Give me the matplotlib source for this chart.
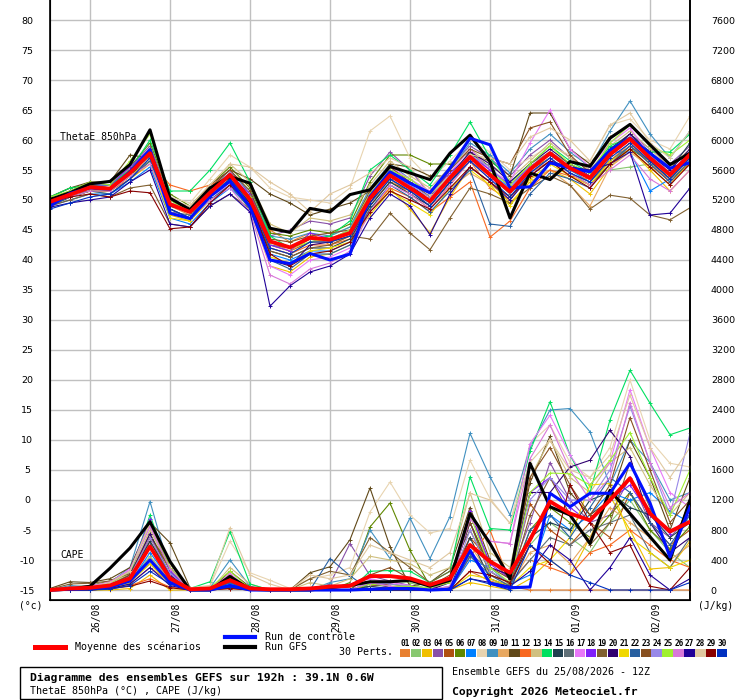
import numpy as np
import matplotlib
matplotlib.use('Agg')
from matplotlib import pyplot as plt
from matplotlib.patches import Rectangle
from matplotlib.lines import Line2D
from matplotlib.transforms import blended_transform_factory

# lead times (h) from 25/08 12Z, every 6 h up to 192 h
hours = list(range(0, 193, 6))

day_hours = [12, 36, 60, 84, 108, 132, 156, 180]
day_labels = ['26/08', '27/08', '28/08', '29/08', '30/08', '31/08', '01/09', '02/09']

pert_colors = ['#E88030', '#88C870', '#F0C000', '#8850A8', '#B05010', '#608800',
               '#0080FF', '#E8D4B0', '#4090C0', '#E8A860', '#604818', '#F86820',
               '#D0C080', '#00E060', '#204050', '#607078', '#E878F8', '#8020F8',
               '#806030', '#300070', '#F0D800', '#2860A0', '#885020', '#9888E8',
               '#A0F030', '#D878D8', '#200098', '#E0C8A0', '#880000', '#0030C0']

# ThetaE 850 hPa (deg C)
theta_mean = [49.7, 50.9, 52.1, 51.9, 54.5, 57.8, 49.3, 48.0, 51.2, 54.2, 50.1, 43.1, 42.1, 43.7, 43.4, 44.5, 50.3,
              54.1, 52.0, 49.8, 53.7, 57.2, 54.2, 51.4, 55.1, 57.8, 55.3, 53.7, 57.6, 60.2, 57.0, 54.2, 57.6]
theta_gfs = [50.1, 51.2, 52.7, 53.1, 55.9, 61.7, 50.3, 48.4, 52.0, 53.9, 52.8, 45.3, 44.6, 48.6, 48.0, 50.9, 51.7,
             55.6, 54.5, 53.4, 57.8, 60.8, 56.4, 47.0, 54.5, 53.4, 56.4, 55.6, 60.3, 62.6, 59.2, 55.9, 57.8]
theta_ctrl = [49.0, 51.1, 52.0, 51.8, 54.7, 58.4, 47.8, 46.9, 50.6, 53.1, 48.9, 40.0, 39.4, 41.1, 40.0, 41.0, 50.6,
              54.7, 52.8, 51.2, 55.3, 60.3, 59.2, 52.0, 52.2, 56.2, 55.3, 54.7, 58.3, 60.3, 57.8, 55.3, 56.2]

theta_perts = [
    [49.5, 50.8, 52.0, 51.5, 54.0, 57.5, 49.0, 47.5, 51.0, 54.5, 52.5, 45.0, 43.0, 44.5, 42.5, 44.0, 50.5, 53.5, 51.0, 48.5, 52.5, 56.5, 52.0, 50.0, 54.5, 56.5, 54.0, 52.5, 56.5, 59.5, 56.0, 53.0, 56.5],
    [49.8, 51.2, 52.5, 52.0, 55.0, 58.5, 50.0, 48.0, 50.5, 53.5, 49.5, 42.0, 41.0, 43.0, 44.0, 45.5, 51.5, 55.0, 53.0, 50.5, 54.0, 58.0, 55.0, 52.5, 56.0, 58.0, 56.0, 54.5, 55.0, 55.5, 56.0, 54.0, 58.0],
    [49.2, 50.5, 51.5, 51.0, 53.5, 56.0, 47.5, 46.5, 50.0, 52.5, 48.5, 39.0, 38.0, 40.5, 41.0, 42.5, 48.0, 52.0, 48.5, 44.5, 50.5, 55.5, 53.0, 49.5, 53.0, 55.0, 53.5, 51.0, 55.5, 58.5, 55.0, 51.5, 55.0],
    [50.0, 51.5, 53.0, 52.5, 55.5, 59.0, 50.5, 48.5, 52.0, 55.0, 51.0, 44.0, 45.0, 46.5, 46.0, 47.0, 54.0, 58.0, 55.0, 51.0, 55.5, 59.0, 57.0, 54.0, 57.5, 60.0, 57.0, 55.0, 58.5, 61.0, 58.5, 56.0, 59.0],
    [49.5, 51.0, 52.0, 51.5, 54.5, 57.0, 48.5, 47.0, 51.5, 54.0, 50.5, 42.5, 41.5, 43.0, 43.0, 44.0, 49.0, 53.0, 51.5, 49.0, 53.0, 56.5, 54.0, 51.5, 55.5, 58.0, 55.0, 53.5, 57.5, 60.0, 57.5, 54.5, 57.0],
    [50.5, 52.0, 52.5, 52.0, 55.5, 59.5, 51.0, 49.0, 52.5, 55.5, 52.0, 44.5, 44.0, 45.0, 44.5, 46.0, 53.0, 57.5, 57.5, 56.0, 56.0, 58.0, 55.5, 52.0, 55.0, 57.0, 54.5, 52.5, 56.0, 58.5, 56.5, 53.5, 56.0],
    [49.0, 50.0, 51.0, 51.0, 53.0, 55.5, 47.0, 46.0, 49.5, 52.0, 49.0, 41.0, 40.0, 41.5, 41.5, 43.0, 49.5, 53.5, 51.5, 49.5, 53.5, 57.0, 54.5, 52.0, 55.5, 57.5, 55.0, 53.0, 58.0, 58.0, 51.5, 53.5, 57.0],
    [50.0, 51.5, 52.5, 52.5, 55.5, 58.0, 50.5, 49.5, 53.5, 57.5, 55.5, 52.0, 50.5, 50.0, 49.5, 52.0, 61.5, 64.0, 57.0, 53.5, 56.5, 60.0, 58.0, 55.0, 57.0, 59.0, 57.5, 56.5, 62.5, 63.5, 60.0, 58.5, 64.0],
    [49.5, 51.0, 52.5, 52.5, 54.5, 56.5, 49.5, 48.5, 52.0, 54.5, 51.5, 44.0, 43.5, 44.5, 44.0, 45.5, 52.0, 56.0, 53.5, 51.0, 55.0, 59.5, 57.5, 54.5, 58.5, 61.0, 58.0, 55.5, 61.5, 66.5, 61.0, 57.0, 61.5],
    [49.5, 50.5, 51.5, 51.5, 54.0, 57.0, 49.0, 48.0, 51.5, 54.0, 50.0, 43.0, 41.5, 43.5, 43.0, 44.5, 49.5, 53.0, 52.0, 50.5, 52.0, 54.5, 52.5, 50.5, 53.5, 55.0, 52.5, 49.0, 55.5, 58.0, 55.5, 53.5, 56.5],
    [50.5, 52.0, 53.0, 53.0, 57.5, 57.0, 49.0, 48.5, 52.5, 55.0, 53.5, 51.0, 49.5, 47.5, 48.5, 49.5, 51.5, 56.0, 55.5, 54.0, 54.0, 57.5, 56.5, 54.0, 64.5, 64.5, 58.5, 56.0, 60.5, 62.5, 59.0, 56.0, 58.0],
    [49.0, 50.5, 51.5, 51.5, 53.5, 56.5, 52.5, 51.5, 52.5, 54.0, 50.5, 42.0, 41.0, 42.5, 42.5, 43.5, 48.5, 52.0, 50.5, 48.0, 50.5, 53.0, 43.8, 46.5, 52.0, 55.0, 54.0, 53.5, 56.5, 59.0, 56.5, 53.0, 56.0],
    [49.8, 51.0, 52.0, 52.0, 54.5, 58.0, 49.5, 48.5, 52.5, 56.0, 53.0, 46.0, 44.5, 47.0, 46.5, 47.5, 52.5, 56.5, 54.0, 52.0, 55.5, 58.5, 56.0, 53.5, 56.5, 59.5, 57.0, 55.0, 59.0, 61.5, 58.5, 55.5, 58.5],
    [50.5, 52.0, 52.5, 52.5, 55.0, 60.0, 51.5, 51.5, 55.0, 59.5, 53.0, 44.0, 42.0, 43.5, 44.0, 46.5, 55.0, 57.5, 55.0, 52.5, 57.5, 63.0, 57.0, 53.0, 56.0, 59.0, 56.5, 54.5, 59.0, 60.5, 58.0, 58.0, 61.0],
    [49.0, 50.5, 51.5, 51.5, 54.0, 57.5, 48.5, 47.0, 50.5, 53.5, 49.5, 41.5, 40.5, 42.0, 42.0, 43.5, 49.0, 53.0, 51.0, 49.0, 53.0, 57.0, 54.5, 51.5, 55.5, 57.5, 55.5, 54.0, 58.5, 61.0, 58.0, 55.0, 59.5],
    [49.5, 51.0, 51.5, 52.0, 54.5, 57.0, 48.0, 47.5, 51.0, 53.5, 50.0, 42.5, 42.0, 43.5, 43.5, 45.0, 50.5, 54.0, 52.0, 49.5, 53.5, 57.0, 54.0, 51.0, 54.5, 57.0, 54.5, 53.0, 56.5, 59.0, 56.5, 53.5, 57.5],
    [49.5, 51.0, 52.5, 51.5, 55.0, 58.5, 49.5, 48.0, 50.5, 52.5, 49.0, 39.0, 37.5, 40.0, 40.5, 42.0, 50.0, 55.5, 53.5, 51.5, 54.5, 58.5, 55.0, 53.0, 59.5, 65.0, 58.5, 55.5, 59.5, 62.0, 57.5, 54.0, 57.0],
    [50.0, 51.5, 52.5, 52.5, 55.5, 58.5, 49.5, 48.0, 51.0, 54.0, 51.0, 42.5, 41.5, 44.5, 43.5, 44.5, 51.0, 55.0, 53.0, 51.0, 54.5, 57.5, 55.0, 52.5, 55.5, 58.0, 55.5, 54.0, 57.5, 60.5, 57.5, 54.5, 58.0],
    [49.0, 50.0, 51.0, 50.5, 52.0, 52.5, 46.0, 45.5, 49.0, 51.0, 48.5, 41.5, 40.5, 42.0, 42.5, 44.0, 43.5, 47.8, 44.5, 41.7, 47.0, 52.0, 51.0, 49.5, 52.0, 54.0, 52.5, 48.5, 50.8, 50.3, 47.5, 46.7, 48.7],
    [49.5, 51.0, 52.0, 52.0, 54.5, 58.0, 49.0, 48.0, 51.5, 54.5, 50.5, 40.0, 39.0, 42.5, 43.0, 44.5, 49.5, 54.5, 52.5, 50.0, 54.0, 58.0, 56.0, 53.0, 56.0, 58.5, 56.0, 54.0, 58.0, 61.0, 57.5, 55.0, 58.5],
    [49.5, 50.5, 51.5, 51.5, 54.0, 56.5, 47.0, 46.5, 50.5, 53.0, 49.0, 40.5, 39.5, 41.5, 42.0, 43.0, 47.5, 51.5, 49.5, 47.5, 52.0, 55.0, 52.5, 49.0, 53.5, 56.0, 54.0, 52.5, 56.5, 58.5, 55.5, 52.5, 56.5],
    [49.0, 50.5, 51.5, 51.0, 53.5, 56.5, 48.5, 47.0, 50.0, 52.5, 48.5, 40.0, 38.5, 41.0, 41.0, 42.5, 48.5, 52.5, 50.5, 48.0, 51.5, 55.0, 46.0, 45.6, 51.0, 54.5, 53.5, 52.0, 56.0, 59.0, 56.0, 53.0, 56.5],
    [50.0, 51.5, 52.5, 52.0, 55.0, 58.5, 50.0, 48.5, 52.0, 55.0, 51.5, 43.5, 43.0, 44.0, 44.5, 45.0, 51.5, 55.5, 53.0, 50.5, 55.0, 58.5, 57.0, 56.0, 62.0, 63.0, 57.5, 54.5, 57.5, 60.0, 57.0, 54.0, 57.0],
    [49.5, 51.0, 52.0, 52.0, 54.5, 57.5, 49.5, 48.0, 51.5, 54.5, 50.0, 43.0, 42.0, 43.5, 43.5, 45.0, 51.0, 54.5, 52.5, 50.5, 54.0, 57.5, 55.5, 52.0, 55.5, 58.0, 55.5, 54.0, 58.0, 60.5, 57.5, 54.5, 58.0],
    [50.5, 51.5, 53.0, 52.5, 56.5, 61.0, 50.0, 48.0, 51.5, 54.0, 50.5, 43.0, 42.0, 43.0, 43.5, 45.0, 51.0, 55.0, 53.5, 51.0, 54.0, 57.0, 54.5, 52.5, 56.0, 59.0, 56.0, 54.5, 59.5, 62.5, 59.0, 57.5, 60.0],
    [49.5, 50.5, 51.5, 51.5, 54.0, 56.0, 48.0, 47.0, 50.0, 52.0, 48.0, 37.5, 36.0, 38.5, 39.5, 41.5, 48.0, 52.5, 51.0, 48.5, 52.5, 56.5, 53.5, 51.5, 54.5, 57.0, 54.5, 52.5, 55.0, 57.5, 53.5, 51.5, 55.0],
    [48.8, 49.5, 50.0, 50.5, 53.0, 55.0, 46.0, 45.5, 49.0, 51.0, 48.0, 32.3, 35.7, 38.0, 39.0, 41.0, 47.0, 51.0, 49.0, 44.2, 51.0, 55.5, 53.0, 50.0, 54.0, 56.5, 55.5, 55.0, 56.0, 58.0, 47.5, 47.8, 52.0],
    [50.0, 51.0, 52.0, 52.0, 54.5, 57.0, 50.0, 49.0, 52.5, 56.0, 55.5, 53.0, 51.0, 48.0, 51.0, 52.5, 54.5, 57.0, 55.5, 51.0, 54.0, 57.5, 57.0, 56.0, 60.5, 62.0, 60.0, 56.5, 62.5, 64.5, 59.5, 57.0, 61.5],
    [49.5, 50.5, 51.0, 50.5, 51.5, 51.2, 45.2, 45.5, 49.5, 52.5, 49.5, 41.0, 39.0, 41.0, 41.5, 43.0, 48.0, 51.5, 50.0, 48.5, 52.0, 55.5, 53.0, 50.5, 54.0, 56.5, 54.0, 52.0, 56.0, 58.5, 55.5, 52.5, 56.0],
    [48.5, 49.5, 50.5, 51.0, 53.5, 57.0, 48.5, 47.0, 50.5, 53.5, 50.0, 42.0, 41.0, 43.0, 43.0, 44.0, 49.5, 53.5, 51.5, 49.0, 53.0, 56.5, 53.5, 50.5, 54.5, 57.0, 54.5, 53.0, 57.0, 59.5, 56.5, 53.5, 57.0],
]

# CAPE (J/kg)
cape_mean = [0, 20, 30, 60, 155, 580, 155, 10, 20, 130, 20, 10, 10, 20, 45, 55, 185,
             185, 155, 70, 155, 600, 380, 230, 670, 1180, 1020, 930, 1200, 1490, 1020, 780, 910]
cape_gfs = [0, 10, 50, 290, 560, 910, 380, 0, 0, 180, 10, 0, 0, 0, 30, 60, 110,
            110, 130, 50, 130, 1020, 620, 150, 1690, 1110, 1000, 620, 1330, 1020, 710, 400, 1200]
cape_ctrl = [0, 10, 20, 40, 120, 400, 100, 0, 0, 60, 0, 0, 0, 0, 0, 0, 10,
             20, 20, 0, 10, 530, 90, 30, 40, 1290, 1110, 1290, 1290, 1690, 1160, 440, 1110]

cape_perts = [
    [0, 0, 0, 20, 80, 300, 100, 0, 0, 40, 0, 0, 0, 0, 0, 0, 0, 0, 0, 0, 0, 250, 120, 50, 0, 0, 0, 0, 0, 0, 0, 0, 0],
    [0, 0, 10, 30, 120, 450, 120, 0, 20, 150, 10, 0, 0, 0, 0, 0, 50, 120, 100, 0, 0, 480, 100, 80, 600, 900, 700, 500, 900, 1200, 800, 500, 300],
    [0, 0, 0, 0, 20, 200, 0, 0, 0, 30, 0, 0, 0, 0, 0, 0, 0, 0, 0, 0, 0, 100, 50, 0, 150, 400, 200, 700, 1250, 800, 280, 300, 650],
    [0, 0, 0, 40, 150, 700, 200, 0, 0, 100, 0, 0, 0, 0, 80, 620, 190, 120, 60, 0, 30, 1060, 300, 200, 900, 1700, 1200, 900, 1000, 1500, 900, 700, 1000],
    [0, 0, 20, 60, 180, 650, 220, 0, 0, 160, 0, 0, 0, 0, 0, 0, 50, 80, 40, 0, 150, 700, 400, 150, 1150, 800, 600, 900, 700, 1300, 900, 600, 800],
    [10, 40, 60, 120, 250, 750, 260, 0, 0, 120, 20, 0, 0, 0, 0, 100, 840, 1160, 530, 50, 100, 900, 200, 100, 800, 1100, 900, 700, 1000, 1300, 800, 550, 850],
    [0, 0, 0, 20, 100, 500, 130, 0, 0, 80, 0, 0, 0, 0, 0, 0, 0, 0, 0, 0, 0, 400, 300, 80, 200, 1000, 800, 1000, 1300, 1200, 1300, 1050, 900],
    [0, 20, 40, 80, 200, 800, 300, 20, 50, 650, 230, 130, 20, 150, 200, 300, 1040, 1440, 1000, 760, 820, 1730, 1220, 890, 1950, 2200, 1700, 1500, 1900, 2800, 2000, 1690, 1640],
    [0, 60, 40, 100, 300, 1180, 250, 0, 30, 400, 50, 0, 0, 0, 100, 150, 800, 420, 960, 420, 980, 2090, 1510, 1000, 1900, 2400, 2420, 2110, 1400, 2000, 1700, 1200, 1300],
    [0, 0, 0, 30, 120, 420, 150, 0, 0, 60, 0, 0, 0, 0, 0, 0, 0, 50, 0, 0, 120, 600, 200, 60, 500, 600, 350, 700, 1100, 900, 700, 400, 600],
    [20, 110, 100, 150, 300, 900, 630, 30, 0, 250, 40, 0, 0, 230, 310, 670, 1360, 580, 50, 100, 300, 1100, 400, 200, 1430, 2050, 1300, 1000, 1200, 2000, 1500, 800, 1500],
    [0, 0, 0, 20, 60, 150, 40, 0, 0, 20, 0, 0, 0, 0, 0, 0, 0, 0, 0, 0, 0, 440, 800, 100, 400, 300, 200, 500, 600, 800, 600, 400, 300],
    [0, 10, 30, 80, 220, 800, 280, 0, 0, 300, 80, 0, 0, 100, 50, 150, 450, 400, 350, 200, 300, 1300, 500, 300, 1500, 2000, 1500, 1300, 1700, 1900, 1400, 1000, 1300],
    [0, 0, 20, 60, 200, 1000, 250, 20, 110, 780, 80, 0, 0, 0, 0, 0, 250, 260, 250, 100, 250, 1510, 820, 800, 1850, 2510, 1800, 1300, 2270, 2930, 2490, 2070, 2160],
    [0, 0, 10, 50, 180, 650, 180, 0, 0, 100, 0, 0, 0, 0, 0, 0, 50, 20, 0, 0, 30, 700, 150, 50, 700, 900, 800, 1200, 1300, 1100, 1000, 700, 900],
    [0, 0, 0, 30, 120, 350, 90, 0, 0, 60, 0, 0, 0, 0, 0, 0, 0, 0, 0, 0, 0, 500, 250, 80, 400, 700, 600, 800, 900, 1000, 500, 300, 700],
    [0, 30, 60, 100, 280, 850, 300, 0, 20, 200, 0, 0, 0, 0, 0, 80, 150, 100, 60, 0, 50, 1000, 650, 620, 1950, 2330, 1800, 1400, 1700, 2670, 1900, 1300, 1100],
    [0, 10, 30, 90, 250, 950, 250, 0, 0, 150, 0, 0, 0, 0, 0, 0, 100, 50, 30, 0, 150, 1050, 350, 150, 1300, 1500, 1100, 900, 1200, 1400, 1000, 750, 1000],
    [10, 80, 90, 120, 220, 700, 350, 10, 0, 180, 30, 0, 0, 150, 250, 200, 700, 500, 300, 100, 250, 800, 250, 80, 1000, 1500, 1000, 600, 900, 1700, 1100, 500, 1200],
    [0, 0, 20, 60, 200, 750, 200, 0, 0, 120, 0, 0, 0, 0, 0, 0, 80, 40, 0, 0, 100, 900, 300, 200, 1300, 1300, 1640, 1730, 2130, 1780, 900, 500, 700],
    [0, 0, 0, 10, 100, 350, 80, 0, 0, 50, 0, 0, 0, 0, 0, 0, 0, 0, 0, 0, 0, 200, 150, 50, 300, 400, 700, 1400, 1420, 700, 500, 300, 400],
    [0, 20, 20, 50, 150, 600, 150, 0, 0, 100, 0, 0, 0, 0, 420, 190, 0, 0, 0, 0, 0, 450, 200, 50, 800, 1000, 700, 1100, 1500, 1300, 900, 600, 1000],
    [0, 0, 20, 70, 200, 700, 300, 0, 0, 200, 0, 0, 0, 0, 0, 0, 200, 300, 150, 50, 200, 900, 300, 150, 1500, 1900, 1400, 1000, 1400, 2300, 1600, 900, 1200],
    [0, 0, 10, 50, 180, 700, 220, 0, 0, 180, 0, 0, 0, 0, 0, 0, 100, 80, 50, 0, 50, 800, 250, 100, 1200, 1500, 1200, 1200, 1600, 2450, 1700, 1000, 2090],
    [0, 10, 30, 90, 250, 900, 300, 0, 30, 250, 20, 0, 0, 0, 0, 0, 80, 50, 50, 30, 100, 1000, 300, 100, 1300, 1560, 1550, 1400, 1730, 2100, 1500, 1000, 1600],
    [0, 20, 50, 110, 260, 850, 280, 0, 0, 220, 0, 0, 0, 0, 0, 0, 100, 50, 0, 0, 50, 950, 650, 620, 1750, 2200, 1600, 1200, 1500, 2500, 1700, 1100, 1300],
    [0, 0, 0, 20, 80, 300, 60, 0, 0, 30, 0, 0, 0, 0, 0, 0, 0, 0, 0, 0, 0, 150, 100, 50, 250, 600, 400, 0, 300, 700, 200, 0, 150],
    [0, 10, 40, 100, 250, 900, 350, 30, 60, 830, 200, 80, 0, 200, 150, 200, 600, 500, 400, 300, 500, 1290, 1200, 890, 1700, 2000, 1600, 1500, 1800, 2600, 1900, 1500, 1900],
    [0, 0, 0, 20, 50, 120, 30, 0, 0, 20, 0, 0, 0, 0, 0, 0, 0, 0, 0, 0, 0, 250, 200, 100, 600, 350, 1400, 900, 500, 600, 50, 0, 300],
    [0, 0, 0, 10, 60, 250, 80, 0, 0, 40, 0, 0, 0, 0, 0, 0, 0, 0, 0, 0, 0, 150, 80, 0, 600, 400, 200, 100, 0, 0, 0, 0, 100],
]

W, H = 740, 700
fig = plt.figure(figsize=(W / 100, H / 100), dpi=100)

# main axes: x 50..690 px, y 0..600 px
ax = fig.add_axes([50 / W, 1 - 600 / H, 640 / W, 600 / H])
t_top = 80 + 20 / 6
t_bot = -15 - 10 / 6
ax.set_xlim(0, 192)
ax.set_ylim(t_bot, t_top)

ax.set_yticks(range(-15, 81, 5))
ax.set_yticklabels([str(v) for v in range(-15, 81, 5)], family='DejaVu Sans', fontsize=6.8)
ax.tick_params(axis='y', length=0, pad=16.5)
for lbl in ax.get_yticklabels():
    lbl.set_horizontalalignment('center')
ax.set_xticks(day_hours)
ax.set_xticklabels([])
ax.tick_params(axis='x', length=0)
ax.grid(True, color='#C0C0C0', linewidth=1.0)
ax.set_axisbelow(True)
ax.spines['top'].set_visible(False)
for s in ['left', 'right', 'bottom']:
    ax.spines[s].set_linewidth(1.2)

ax2 = ax.twinx()
ax2.set_ylim((t_bot + 15) * 80, (t_top + 15) * 80)
ax2.set_yticks(range(0, 7601, 400))
ax2.set_yticklabels([str(v) for v in range(0, 7601, 400)], family='DejaVu Sans', fontsize=6.8)
ax2.tick_params(axis='y', length=0, pad=15)
ax2.spines['top'].set_visible(False)
ax2.spines['right'].set_linewidth(1.2)

for i, c in enumerate(pert_colors):
    ax.plot(hours, theta_perts[i], color=c, lw=0.8, marker='+', ms=3, mew=0.7, zorder=2)
    ax2.plot(hours, cape_perts[i], color=c, lw=0.8, marker='+', ms=3, mew=0.7, zorder=2)

ax.plot(hours, theta_gfs, color='black', lw=2.2, zorder=3)
ax.plot(hours, theta_ctrl, color='#0010FF', lw=2.2, zorder=4)
ax.plot(hours, theta_mean, color='#FF0000', lw=2.8, zorder=5)
ax2.plot(hours, cape_gfs, color='black', lw=2.2, zorder=3)
ax2.plot(hours, cape_ctrl, color='#0010FF', lw=2.2, zorder=4)
ax2.plot(hours, cape_mean, color='#FF0000', lw=2.8, zorder=5)

mono = 'DejaVu Sans Mono'
ax.text(0.0156, 60.5, 'ThetaE 850hPa', family=mono, fontsize=7, va='center', ha='left',
        transform=blended_transform_factory(ax.transAxes, ax.transData))
ax.text(0.0156, -9.25, 'CAPE', family=mono, fontsize=7, va='center', ha='left',
        transform=blended_transform_factory(ax.transAxes, ax.transData))

trans = blended_transform_factory(ax.transData, ax.transAxes)
for h, lab in zip(day_hours, day_labels):
    ax.text(h + 2.0, -0.005, lab, transform=trans, rotation=90, ha='center', va='top',
            family=mono, fontsize=7)

# overlay in pixel coordinates for legend and footer
ov = fig.add_axes([0, 0, 1, 1], facecolor='none')
ov.set_xlim(0, W)
ov.set_ylim(H, 0)
ov.axis('off')

ov.text(31, 606, '(°c)', family=mono, fontsize=7, ha='center', va='center')
ov.text(716, 606, '(J/kg)', family=mono, fontsize=7, ha='center', va='center')

ov.add_line(Line2D([35, 65], [647, 647], color='#FF0000', lw=3.6))
ov.text(75, 647, 'Moyenne des scénarios', family=mono, fontsize=7.2, va='center')
ov.add_line(Line2D([225, 255], [637, 637], color='#0010FF', lw=3))
ov.text(265, 637, 'Run de contrôle', family=mono, fontsize=7.2, va='center')
ov.add_line(Line2D([225, 255], [647, 647], color='black', lw=3))
ov.text(265, 647, 'Run GFS', family=mono, fontsize=7.2, va='center')
ov.text(339, 652, '30 Perts.', family=mono, fontsize=7.2, va='center')

sq_w = 328 / 30
for i, c in enumerate(pert_colors):
    x0 = 400 + i * sq_w
    ov.add_patch(Rectangle((x0, 649), sq_w - 0.6, 7.5, facecolor=c, edgecolor='none'))
    ov.text(x0 + sq_w / 2, 643.5, '%02d' % (i + 1), family=mono, fontsize=5.6,
            fontweight='bold', ha='center', va='center')

ov.add_patch(Rectangle((20, 667), 422, 32, facecolor='none', edgecolor='black', lw=1))
ov.text(30, 677.5, 'Diagramme des ensembles GEFS sur 192h : 39.1N 0.6W', family=mono,
        fontsize=8.2, fontweight='bold', va='center')
ov.text(30, 691.5, 'ThetaE 850hPa (°C) , CAPE (J/kg)', family=mono, fontsize=7.2, va='center')
ov.text(452, 671.5, 'Ensemble GEFS du 25/08/2026 - 12Z', family=mono, fontsize=7.2, va='center')
ov.text(452, 691.5, 'Copyright 2026 Meteociel.fr', family=mono, fontsize=8.2,
        fontweight='bold', va='center')

fig.savefig('out.png', dpi=100)
